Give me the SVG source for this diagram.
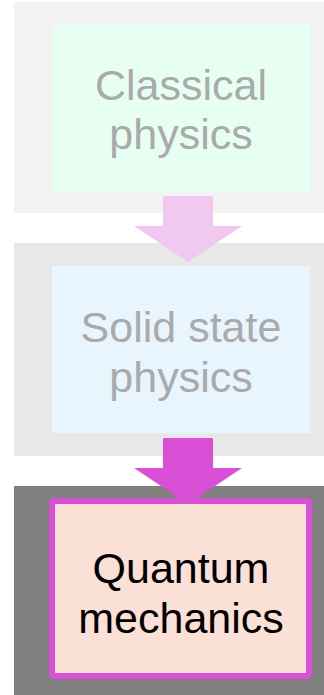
<svg xmlns="http://www.w3.org/2000/svg" width="324" height="695" viewBox="0 0 324 695">
<style>
.lbl{font-family:"Liberation Sans",Arial,sans-serif;font-size:43px;text-anchor:middle}
.faded{fill:#aaaaaa}
.dark{fill:#000000}
</style>
<rect width="324" height="695" fill="#ffffff"/>
<g id="panels">
<rect x="14" y="2" width="310" height="211" fill="#f2f2f2"/>
<rect x="14" y="243" width="310" height="213" fill="#e8e8e8"/>
<rect x="14" y="486" width="310" height="209" fill="#808080"/>
</g>
<g id="node-classical">
<rect x="52" y="25" width="258" height="167" fill="#e6fff2"/>
<text class="lbl faded" x="181" y="100">Classical</text>
<text class="lbl faded" x="181" y="149">physics</text>
</g>
<g id="node-solid">
<rect x="52" y="266" width="258" height="167" fill="#e8f5ff"/>
<text class="lbl faded" x="181" y="342">Solid state</text>
<text class="lbl faded" x="181" y="392">physics</text>
</g>
<g id="connectors">
<polygon points="163,196 213,196 213,226 242,226 188,262 134,226 163,226" fill="#f0c8f0"/>
<polygon points="163,438 213,438 213,468 242,468 188,504 134,468 163,468" fill="#d94fd5"/>
</g>
<g id="node-quantum">
<rect x="52" y="501" width="257" height="175" rx="2" fill="#fbe0d6" stroke="#d94fd5" stroke-width="6"/>
<text class="lbl dark" x="181" y="583">Quantum</text>
<text class="lbl dark" x="181" y="633">mechanics</text>
</g>
</svg>
